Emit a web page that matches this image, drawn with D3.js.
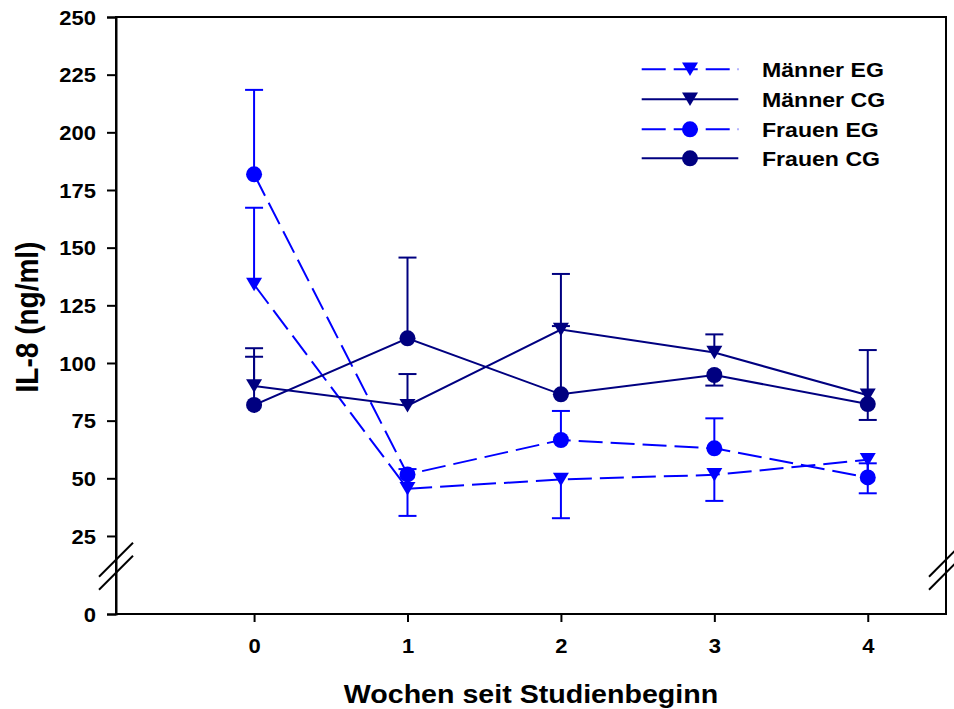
<!DOCTYPE html>
<html>
<head>
<meta charset="utf-8">
<script src="https://cdn.jsdelivr.net/npm/d3@7"></script>
<style>
  html, body { margin: 0; padding: 0; background: #fff; }
  svg { display: block; }
  text { font-family: "Liberation Sans", Arial, Helvetica, sans-serif; font-weight: bold; fill: #000; }
</style>
</head>
<body>
<svg id="chart" width="954" height="709"></svg>
<script>
// Weeks since start of study
const weeks = [0, 1, 2, 3, 4];

// IL-8 means (ng/ml) per group
const maennerEG = [134, 45.5, 49.5, 51.5, 58];
const maennerCG = [90, 81.5, 114.5, 104.5, 86];
const frauenEG  = [181.8, 51.7, 66.6, 63, 50.4];
const frauenCG  = [81.8, 110.7, 86.4, 94.8, 82.2];

// End value of each one-sided error bar (drawn from the mean to this value)
const maennerEGErrEnd = [167.3, 33.7, 32.7, 40.2, 43.5];
const maennerCGErrEnd = [106.4, 95.2, 138.6, 112.4, 105.6];
const frauenEGErrEnd  = [218.4, 54, 79.2, 76, 56.5];
const frauenCGErrEnd  = [102.7, 145.7, 116, 90.2, 75.3];

const seriesNames = ["Männer EG", "Männer CG", "Frauen EG", "Frauen CG"];
const yTicks = [0, 25, 50, 75, 100, 125, 150, 175, 200, 225, 250];
const xTicks = [0, 1, 2, 3, 4];

const series = [
  { name: seriesNames[0], values: maennerEG, errEnd: maennerEGErrEnd, color: "#0000ff", dashed: true,  symbol: "tri" },
  { name: seriesNames[1], values: maennerCG, errEnd: maennerCGErrEnd, color: "#000080", dashed: false, symbol: "tri" },
  { name: seriesNames[2], values: frauenEG,  errEnd: frauenEGErrEnd,  color: "#0000ff", dashed: true,  symbol: "circle" },
  { name: seriesNames[3], values: frauenCG,  errEnd: frauenCGErrEnd,  color: "#000080", dashed: false, symbol: "circle" }
];

const SX = 1.1;           // horizontal stretch applied to lettering
const plotL = 116, plotR = 946, plotT = 17, plotB = 614;
const DASH = "24,8";

const svg = d3.select("#chart");

const x = d3.scaleLinear().domain([-0.9, 4.51]).range([plotL, plotR]);
// Broken value axis: short segment 0..12.5, then linear 12.5..250
const y = d3.scaleLinear().domain([0, 12.5, 250]).range([plotB, 564.8, plotT]);

function stretchText(sel) {
  sel.each(function () {
    const t = d3.select(this);
    const tx = +t.attr("x") || 0, ty = +t.attr("y") || 0;
    t.attr("x", 0).attr("y", 0).attr("transform", `translate(${tx},${ty}) scale(${SX},1)`);
  });
}

// Frame
svg.append("rect")
  .attr("x", plotL).attr("y", plotT)
  .attr("width", plotR - plotL).attr("height", plotB - plotT)
  .attr("fill", "none").attr("stroke", "#000").attr("stroke-width", 2);

// Y axis
const yAxis = svg.append("g")
  .attr("transform", `translate(${plotL},0)`)
  .call(d3.axisLeft(y).tickValues(yTicks).tickSize(9).tickPadding(11).tickFormat(d3.format("d")));
yAxis.select(".domain").attr("stroke-width", 2);
yAxis.selectAll(".tick line").attr("stroke-width", 2);
yAxis.selectAll(".tick text")
  .attr("font-size", 20).attr("dy", null).attr("dominant-baseline", "central")
  .call(stretchText);

// X axis
const xAxis = svg.append("g")
  .attr("transform", `translate(0,${plotB})`)
  .call(d3.axisBottom(x).tickValues(xTicks).tickSize(8).tickPadding(17).tickFormat(d3.format("d")));
xAxis.select(".domain").remove();
xAxis.selectAll(".tick line").attr("stroke-width", 2);
xAxis.selectAll(".tick text").attr("font-size", 20).call(stretchText);

// Axis break marks on left and right axes
const breakY = [559.7, 572.7];
[plotL, plotR].forEach(ax => {
  breakY.forEach(by => {
    svg.append("line")
      .attr("x1", ax - 17).attr("y1", by + 17)
      .attr("x2", ax + 17).attr("y2", by - 17)
      .attr("stroke", "#000").attr("stroke-width", 2);
  });
});

// Axis titles
svg.append("text")
  .attr("text-anchor", "middle").attr("font-size", 26)
  .attr("transform", `translate(${(plotL + plotR) / 2},703) scale(${SX},1)`)
  .text("Wochen seit Studienbeginn");
svg.append("text")
  .attr("text-anchor", "middle").attr("font-size", 28)
  .attr("transform", `translate(37.5,317) scale(${SX},1) rotate(-90)`)
  .text("IL-8 (ng/ml)");

// Marker shapes
const triW = 16, triH = 13.5, circR = 8;
function drawSymbol(g, s, cx, cy) {
  if (s.symbol === "circle") {
    g.append("circle").attr("cx", cx).attr("cy", cy).attr("r", circR).attr("fill", s.color);
  } else {
    g.append("path")
      .attr("d", `M${cx - triW / 2},${cy - triH / 2}L${cx + triW / 2},${cy - triH / 2}L${cx},${cy + triH / 2}Z`)
      .attr("fill", s.color);
  }
}

const line = d3.line().x((d, i) => x(weeks[i])).y(d => y(d));

series.forEach(s => {
  const g = svg.append("g");
  // error bars
  s.values.forEach((v, i) => {
    const cx = x(weeks[i]);
    g.append("line")
      .attr("x1", cx).attr("x2", cx)
      .attr("y1", y(v)).attr("y2", y(s.errEnd[i]))
      .attr("stroke", s.color).attr("stroke-width", 2);
    g.append("line")
      .attr("x1", cx - 9).attr("x2", cx + 9)
      .attr("y1", y(s.errEnd[i])).attr("y2", y(s.errEnd[i]))
      .attr("stroke", s.color).attr("stroke-width", 2);
  });
  // connecting line
  g.append("path")
    .attr("d", line(s.values))
    .attr("fill", "none").attr("stroke", s.color).attr("stroke-width", 2)
    .attr("stroke-dasharray", s.dashed ? DASH : null);
  // symbols
  s.values.forEach((v, i) => drawSymbol(g, s, x(weeks[i]), y(v)));
});

// Legend
const legendRows = [69.3, 99.3, 129.3, 158.3];
series.forEach((s, i) => {
  const g = svg.append("g");
  const ly = legendRows[i];
  g.append("line")
    .attr("x1", 641.7).attr("x2", 738.3).attr("y1", ly).attr("y2", ly)
    .attr("stroke", s.color).attr("stroke-width", 2)
    .attr("stroke-dasharray", s.dashed ? DASH : null);
  drawSymbol(g, s, 690, ly);
  g.append("text")
    .attr("font-size", 21)
    .attr("transform", `translate(762,${ly + 7.5}) scale(${SX},1)`)
    .text(s.name);
});
</script>
</body>
</html>
